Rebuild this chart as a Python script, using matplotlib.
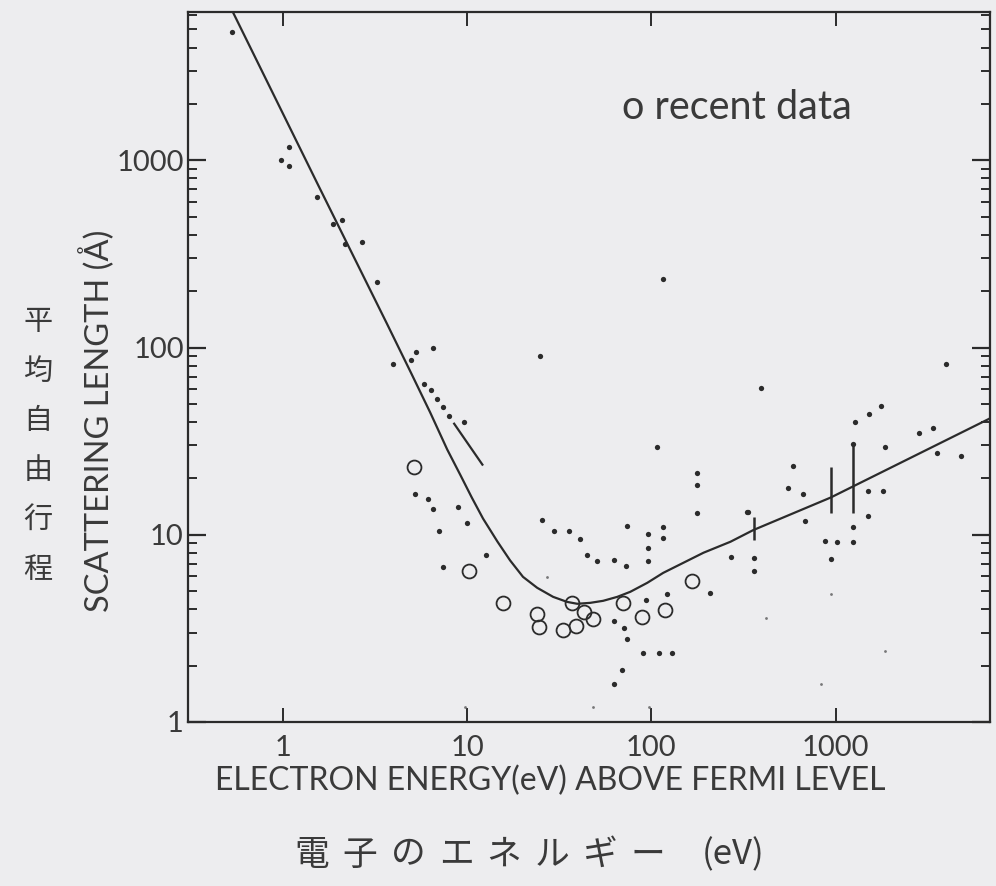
import numpy as np
import matplotlib
matplotlib.use("Agg")
import matplotlib.pyplot as plt
from matplotlib.ticker import FixedLocator, FixedFormatter, LogLocator, NullLocator, NullFormatter

plt.rcParams['font.family'] = ['Lato', 'DejaVu Sans', 'Noto Sans CJK JP']

# universal curve (energy eV, length A)
curve_e = [0.53, 1.55, 3.67, 5.0, 6.3, 7.8, 9.2, 10.6, 12.2, 14.6, 17.1, 20.1, 24.0, 29.3, 34.9,
           39.6, 46.6, 54.8, 65.3, 76.9, 95.1, 116, 149, 192, 269, 358, 940, 7220]
curve_l = [6300, 740, 134, 72, 45, 28.5, 20.8, 15.8, 12.2, 9.2, 7.3, 5.96, 5.21, 4.66, 4.38,
           4.28, 4.33, 4.44, 4.66, 4.96, 5.54, 6.26, 7.08, 8.02, 9.18, 10.6, 15.8, 42.8]

# short straight segment above the curve near 10 eV
seg_e = [8.5, 12.1]
seg_l = [39.2, 23.7]

# older data, small dots
dot_e = [0.53, 0.98, 1.08, 1.08, 1.53, 1.87, 2.09, 2.17, 2.69, 3.23,
         3.97, 4.96, 5.3, 6.5, 5.85, 6.4, 6.9, 7.4, 8.0, 9.6,
         5.2, 6.1, 6.5, 8.9, 7.05, 10, 12.7, 7.4,
         25.5, 29.7, 35.9, 41, 44.5, 51, 63, 73, 74, 96, 96, 96, 116, 116,
         108, 178, 178, 178, 330, 270, 209, 363, 363, 122, 94,
         63, 71, 74, 90, 110, 130, 69, 63, 25, 116, 393,
         3970, 1770, 1520, 1280, 2850, 3400, 1250, 1860, 3550, 4800,
         590, 550, 670, 333, 1500, 1800, 1500, 680, 880, 1020, 1250, 950, 1250]
dot_l = [4830, 1010, 1175, 930, 641, 455, 483, 356, 366, 225,
         82, 86, 95, 99, 64, 59, 53, 48, 43, 40,
         16.6, 15.5, 13.8, 14, 10.5, 11.6, 7.8, 6.7,
         12.0, 10.5, 10.5, 9.5, 7.8, 7.2, 7.3, 6.8, 11.1, 10.1, 8.5, 7.25, 11.0, 9.65,
         29.5, 21.5, 18.5, 13.1, 13.3, 7.6, 4.9, 6.4, 7.55, 4.85, 4.5,
         3.46, 3.18, 2.78, 2.34, 2.34, 2.34, 1.9, 1.6, 90.6, 231, 61,
         82, 49, 44, 40, 35, 37, 30.6, 29.5, 27.5, 26.5,
         23.3, 17.8, 16.6, 13.2, 17.2, 17.2, 12.6, 11.9, 9.3, 9.2, 9.1, 7.4, 11]

# faint specks
speck_e = [940, 420, 1850, 830, 48.5, 97, 9.7, 27]
speck_l = [4.8, 3.6, 2.4, 1.6, 1.2, 1.2, 1.2, 5.96]

# vertical bars (energy, low, high)
bar_e = [1250, 950, 360]
bar_lo = [13, 13, 9.4]
bar_hi = [31, 23, 12.5]

# recent data, open circles
circ_e = [5.15, 10.2, 15.7, 24, 24.6, 33, 39, 37, 43, 48.5, 70, 89, 118, 167]
circ_l = [23.1, 6.4, 4.33, 3.78, 3.22, 3.1, 3.26, 4.33, 3.88, 3.55, 4.33, 3.64, 3.97, 5.67]

x_ticks = [1, 10, 100, 1000]
x_labels = ['1', '10', '100', '1000']
y_ticks = [1, 10, 100, 1000]
y_labels = ['1', '10', '100', '1000']

jp_ylabel = ['平', '均', '自', '由', '行', '程']
jp_xlabel = ['電', '子', 'の', 'エ', 'ネ', 'ル', 'ギ', 'ー', '(eV)']

ink = '#2b2b2b'
txt = '#3a3a3a'
paper = '#ededef'

fig = plt.figure(figsize=(9.96, 8.86), dpi=100, facecolor=paper)
ax = fig.add_axes([188 / 996, 1 - 722 / 886, (990 - 188) / 996, (722 - 12) / 886])
ax.set_facecolor(paper)
ax.set_xscale('log')
ax.set_yscale('log')
ax.set_xlim(0.305, 6900)
ax.set_ylim(1, 6200)

ax.plot(curve_e, curve_l, color=ink, lw=1.6)
ax.plot(seg_e, seg_l, color=ink, lw=1.6)
ax.vlines(bar_e, bar_lo, bar_hi, color=ink, lw=1.8)
ax.plot(dot_e, dot_l, 'o', color=ink, ms=3.8, mec='none')
ax.plot(speck_e, speck_l, 'o', color='#777777', ms=2, mec='none')
ax.plot(circ_e, circ_l, 'o', mfc='none', mec=ink, ms=10, mew=1.3)

ax.text(0.541, 0.866, 'o recent data', transform=ax.transAxes, fontsize=28.5,
        color=txt, va='center', ha='left')

for s in ax.spines.values():
    s.set_color(ink)
    s.set_linewidth(1.6)

ax.xaxis.set_major_locator(FixedLocator(x_ticks))
ax.xaxis.set_major_formatter(FixedFormatter(x_labels))
ax.xaxis.set_minor_locator(NullLocator())
ax.yaxis.set_major_locator(FixedLocator(y_ticks))
ax.yaxis.set_major_formatter(FixedFormatter(y_labels))
ax.yaxis.set_minor_locator(LogLocator(base=10, subs=np.arange(2, 10)))
ax.yaxis.set_minor_formatter(NullFormatter())

ax.tick_params(axis='both', which='both', direction='in', top=True, right=True,
               colors=ink, labelcolor=txt)
ax.tick_params(axis='x', which='major', length=10, width=1.4, labelsize=21, pad=9)
ax.tick_params(axis='y', which='major', length=13, width=1.6, labelsize=21, pad=3)
ax.tick_params(axis='y', which='minor', length=6.5, width=1.4)

fig.text(97 / 996, 1 - 421 / 886, 'SCATTERING LENGTH (Å)', rotation=90, fontsize=23.5,
         color=txt, ha='center', va='center')
for i, ch in enumerate(jp_ylabel):
    fig.text(38 / 996, 1 - (322 + 49.5 * i) / 886, ch, fontsize=21, color=txt,
             ha='center', va='center', family=['Noto Sans CJK JP'])

fig.text(550 / 996, 1 - 781 / 886, 'ELECTRON ENERGY(eV) ABOVE FERMI LEVEL', fontsize=23,
         color=txt, ha='center', va='center')
for i, ch in enumerate(jp_xlabel):
    xc = 312 + 48 * i if i < 8 else 733
    fig.text(xc / 996, 1 - 855 / 886, ch, fontsize=25, color=txt,
             ha='center', va='center', family=['Noto Sans CJK JP', 'DejaVu Sans'])

fig.savefig('out.png', dpi=100, facecolor=paper)
